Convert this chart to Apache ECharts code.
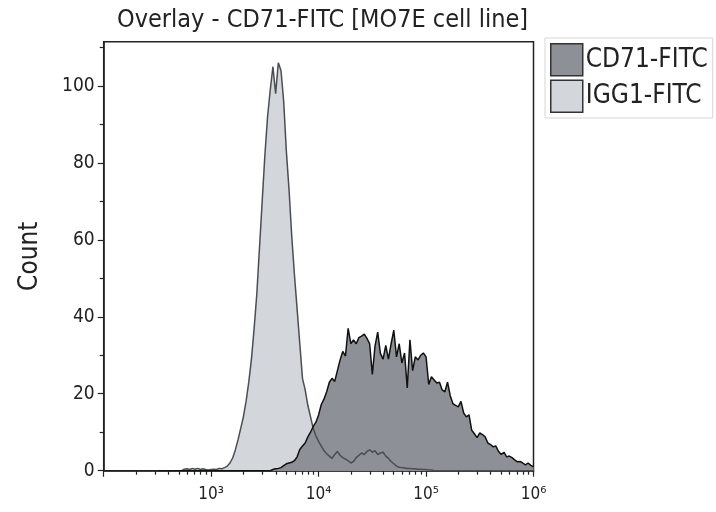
<!DOCTYPE html>
<html>
<head>
<meta charset="utf-8">
<script src="https://cdn.jsdelivr.net/npm/echarts@6/dist/echarts.min.js"></script>
<style>
html,body{margin:0;padding:0;background:#fff;}
#chart{width:716px;height:512px;}
</style>
</head>
<body>
<div id="chart"></div>
<script>
// Fluorescence intensity (bin centres)
var fluor = [
316,335,355,376,398,422,447,473,501,531,562,596,631,668,708,750,794,841,891,944,
1000,1059,1122,1189,1259,1334,1413,1496,1585,1679,1778,1884,1995,2113,2239,2371,2512,2661,2818,2985,
3162,3350,3548,3758,3981,4217,4467,4732,5012,5309,5623,5957,6310,6683,7079,7499,7943,8414,8913,9441,
10000,10593,11220,11885,12589,13335,14125,14962,15849,16788,17783,18836,19953,21135,22387,23714,25119,26607,28184,29854,
31623,33497,35481,37584,39811,42170,44668,47315,50119,53088,56234,59566,63096,66834,70795,74989,79433,84140,89125,94406,
100000,105925,112202,118850,125893,133352,141254,149624,158489,167880,177828,188365,199526,211349,223872,237137,251189,266073,281838,298538,
316228,334965,354813,375837,398107,421697,446684,473151,501187,530884,562341,595662,630957,668344,707946,749894,794328,841395,891251,944061,
1000000
];

// IGG1-FITC counts
var igg1Counts = [
0,0,0,0,0,0,0,0,0,0,
0.4,0.5,0.3,0.6,0.4,0.6,0.3,0.5,0.3,0.2,
0.3,0.4,0.3,0.6,0.5,0.8,1.2,2.0,3.3,5.4,
8,11,14,18,23,29,37,46,58,70,
82,92,99,105,98,106,104,96,83,73,
61,51,42,33,24,21,17,14,11,9,
7.6,6.4,5.2,4.4,3.8,3.2,4.2,5.0,4.0,3.4,
3.0,2.6,2.0,2.4,3.4,4.0,4.6,4.2,5.0,5.4,
4.8,5.2,4.2,4.6,4.8,3.8,3.2,2.4,1.8,1.2,
0.9,0.8,0.7,0.6,0.6,0.5,0.5,0.4,0.4,0.3,
0.3,0.2,0.2,0,0,0,0,0,0,0,
0,0,0,0,0,0,0,0,0,0,
0,0,0,0,0,0,0,0,0,0,
0,0,0,0,0,0,0,0,0,0,
0
];

// CD71-FITC counts
var cd71Counts = [
0,0,0,0,0,0,0,0,0,0,
0,0,0,0,0,0,0,0,0,0,
0,0,0,0,0,0,0,0,0,0,
0,0,0,0,0,0,0,0,0,0,
0,0,0,0.3,0.5,0.6,0.8,1.3,1.8,2.0,
2.2,2.6,3.6,5.5,6.4,7.2,8.8,10,11.5,12.6,
14.5,17.2,18.6,20.5,23,24,23.2,26,28.8,31,
29.8,37,33,34,33,34.6,35,35.5,34.4,33,
25,32.4,36,30.5,29,32.6,29,33,36.5,29.6,
33,28,30.6,21.5,34,26,29.6,28.8,30,30.6,
29.6,22.4,24.4,23.6,22.8,23,21,20.5,23,19.5,
17.4,17,16.6,18,15,14,14.5,10.5,9.6,8.6,
9.8,9.4,8.8,7.2,6.8,6.2,6.4,5,4.2,4.8,
3.6,3.8,3.4,2.8,2.3,2.4,2,1.5,2,1.4,
1
];

var seriesNames = ['CD71-FITC', 'IGG1-FITC'];
var titleText = 'Overlay - CD71-FITC [MO7E cell line]';
var yName = 'Count';
var yTicks = [0, 20, 40, 60, 80, 100];
var yMinorTicks = [10, 30, 50, 70, 90, 110];
var yLabels = ['0', '20', '40', '60', '80', '100'];
var xTickValues = [1000, 10000, 100000, 1000000];
var xTickLabels = ['10\u00B3', '10\u2074', '10\u2075', '10\u2076'];
var xMajorTicks = [100, 1000, 10000, 100000, 1000000];
var xMinorMantissas = [2, 3, 4, 5, 6, 7, 8, 9];
var xDecades = [100, 1000, 10000, 100000];

function pairs(xs, ys) {
  var out = [];
  for (var i = 0; i < xs.length; i++) out.push([xs[i], ys[i]]);
  return out;
}
var xMinorTicks = [];
xDecades.forEach(function (d) {
  xMinorMantissas.forEach(function (m) { xMinorTicks.push(m * d); });
});

var FONT = '"DejaVu Sans Condensed", "DejaVu Sans", sans-serif';
var cdFill = '#8d9197', iggFill = '#d3d6db';
var cdLine = '#111111', iggLine = '#4a4d52';
var axisCol = '#222222';
var GRID_H = 512 - 41.7 - 41.3;

var chart = echarts.init(document.getElementById('chart'), null, {renderer: 'canvas'});
var option = {
  animation: false,
  backgroundColor: '#ffffff',
  textStyle: {fontFamily: FONT},
  title: {
    text: titleText,
    left: 112, top: 3,
    textStyle: {fontFamily: FONT, fontSize: 25, fontWeight: 'normal', color: '#222'}
  },
  legend: {
    orient: 'vertical',
    left: 545, top: 38,
    padding: 5,
    itemWidth: 32, itemHeight: 32, itemGap: 3,
    borderColor: '#d6d6d6', borderWidth: 1,
    icon: 'rect',
    itemStyle: {borderColor: '#333', borderWidth: 1.5},
    textStyle: {fontFamily: FONT, fontSize: 26, color: '#222', padding: [0, 0, 0, -2]},
    data: [
      {name: seriesNames[0], itemStyle: {color: cdFill}},
      {name: seriesNames[1], itemStyle: {color: iggFill}}
    ]
  },
  grid: {
    left: 103.7, right: 182.5, top: 41.7, bottom: 41.3,
    show: true, borderColor: axisCol, borderWidth: 1.5
  },
  xAxis: [{
    type: 'log', logBase: 10, min: 100, max: 1000000,
    position: 'bottom',
    axisLine: {show: true, onZero: false, lineStyle: {color: axisCol, width: 1.5}},
    axisTick: {show: true, length: 4, customValues: xMinorTicks, lineStyle: {color: axisCol, width: 1.2}},
    splitLine: {show: false},
    minorSplitLine: {show: false},
    axisLabel: {
      show: true, margin: 15, fontFamily: FONT, fontSize: 17, color: '#222',
      showMinLabel: true, showMaxLabel: true,
      formatter: function (v) {
        for (var i = 0; i < xTickValues.length; i++) {
          if (Math.abs(v - xTickValues[i]) / xTickValues[i] < 1e-6) return xTickLabels[i];
        }
        return '';
      }
    }
  }, {
    type: 'log', logBase: 10, min: 100, max: 1000000,
    position: 'top', offset: -GRID_H,
    axisLine: {show: false, onZero: false},
    axisLabel: {show: false},
    splitLine: {show: false},
    minorSplitLine: {show: false},
    axisTick: {show: true, inside: true, length: 6, customValues: xMajorTicks, lineStyle: {color: axisCol, width: 1.2}}
  }],
  yAxis: [{
    type: 'value', min: 0, max: 111.5, interval: 20,
    position: 'left',
    name: yName, nameLocation: 'middle', nameGap: 60, nameRotate: 90,
    nameTextStyle: {fontFamily: FONT, fontSize: 26, color: '#222'},
    axisLine: {show: true, onZero: false, lineStyle: {color: axisCol, width: 1.5}},
    axisTick: {show: true, length: 6, customValues: yTicks, lineStyle: {color: axisCol, width: 1.2}},
    axisLabel: {
      show: true, margin: 9, fontFamily: FONT, fontSize: 19, color: '#222',
      customValues: yTicks,
      formatter: function (v) {
        var i = yTicks.indexOf(v);
        return i >= 0 ? yLabels[i] : '';
      }
    },
    splitLine: {show: false}
  }, {
    type: 'value', min: 0, max: 111.5, position: 'left',
    axisLine: {show: false, onZero: false},
    axisLabel: {show: false},
    splitLine: {show: false},
    axisTick: {show: true, length: 4, customValues: yMinorTicks, lineStyle: {color: axisCol, width: 1.2}}
  }],
  series: [
    {
      name: seriesNames[1], type: 'line', xAxisIndex: 0, yAxisIndex: 0,
      data: pairs(fluor, igg1Counts), symbol: 'none', showSymbol: false, sampling: 'none',
      itemStyle: {color: iggFill},
      lineStyle: {width: 0, opacity: 0},
      areaStyle: {color: iggFill, opacity: 1}
    },
    {
      name: seriesNames[0], type: 'line', xAxisIndex: 0, yAxisIndex: 0,
      data: pairs(fluor, cd71Counts), symbol: 'none', showSymbol: false, sampling: 'none',
      itemStyle: {color: cdFill},
      lineStyle: {width: 0, opacity: 0},
      areaStyle: {color: cdFill, opacity: 1}
    },
    {
      name: seriesNames[1] + ' outline', type: 'line', xAxisIndex: 0, yAxisIndex: 0,
      data: pairs(fluor, igg1Counts), symbol: 'none', showSymbol: false, sampling: 'none',
      itemStyle: {color: iggLine},
      lineStyle: {color: iggLine, width: 1.5}
    },
    {
      name: seriesNames[0] + ' outline', type: 'line', xAxisIndex: 0, yAxisIndex: 0,
      data: pairs(fluor, cd71Counts), symbol: 'none', showSymbol: false, sampling: 'none',
      itemStyle: {color: cdLine},
      lineStyle: {color: cdLine, width: 1.5}
    }
  ]
};
chart.setOption(option);
</script>
</body>
</html>
